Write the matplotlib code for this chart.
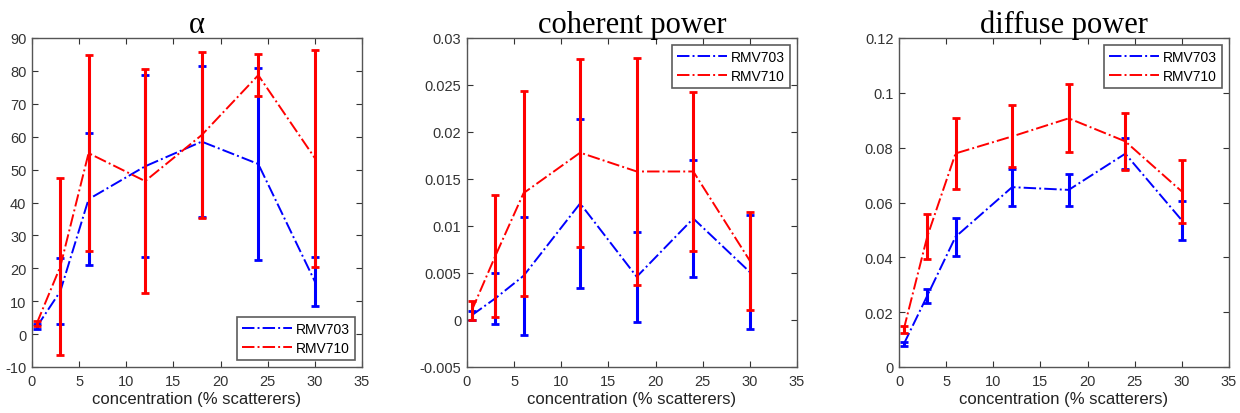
import numpy as np
import matplotlib
matplotlib.use('Agg')
import matplotlib.pyplot as plt
from matplotlib.lines import Line2D

# concentration (% scatterers)
conc = [0.5, 3, 6, 12, 18, 24, 30]

# alpha
alpha_703 = [2.2, 13, 41, 51, 58.5, 51.7, 16]
alpha_703_err = [0.8, 10, 20, 27.7, 23, 29.3, 7.5]
alpha_710 = [3.2, 20.5, 55, 46.5, 60.5, 78.7, 53.5]
alpha_710_err = [0.8, 27, 29.7, 34, 25.3, 6.3, 33]

# coherent power
coh_703 = [0.0005, 0.0023, 0.0047, 0.0124, 0.0046, 0.0108, 0.0051]
coh_703_err = [0.0005, 0.0027, 0.0063, 0.009, 0.0048, 0.0062, 0.0061]
coh_710 = [0.001, 0.0068, 0.0135, 0.0178, 0.0158, 0.0158, 0.0063]
coh_710_err = [0.001, 0.0065, 0.0109, 0.01, 0.0121, 0.0085, 0.0052]

# diffuse power
dif_703 = [0.0083, 0.026, 0.0475, 0.0656, 0.0646, 0.0778, 0.0535]
dif_703_err = [0.0008, 0.0025, 0.007, 0.0068, 0.0058, 0.0057, 0.0072]
dif_710 = [0.0137, 0.0476, 0.0779, 0.0841, 0.0907, 0.0823, 0.064]
dif_710_err = [0.0012, 0.0083, 0.0131, 0.0113, 0.0124, 0.0105, 0.0115]

titles = ['α', 'coherent power', 'diffuse power']
ylims = [(-10, 90), (-0.005, 0.03), (0, 0.12)]
yticks = [np.arange(-10, 91, 10),
          [-0.005, 0, 0.005, 0.01, 0.015, 0.02, 0.025, 0.03],
          [0, 0.02, 0.04, 0.06, 0.08, 0.1, 0.12]]
ytick_labels = [[str(v) for v in range(-10, 91, 10)],
                ['-0.005', '0', '0.005', '0.01', '0.015', '0.02', '0.025', '0.03'],
                ['0', '0.02', '0.04', '0.06', '0.08', '0.1', '0.12']]
legend_locs = ['lower right', 'upper right', 'upper right']
series = [(alpha_703, alpha_703_err, alpha_710, alpha_710_err),
          (coh_703, coh_703_err, coh_710, coh_710_err),
          (dif_703, dif_703_err, dif_710, dif_710_err)]

plt.rcParams['font.family'] = ['Liberation Sans', 'DejaVu Sans']

fig = plt.figure(figsize=(12.4, 4.14), dpi=100)
lefts = [32, 467, 899]
W, H = 1240, 414
BLUE, RED = '#0000ff', '#ff0000'

for i in range(3):
    ax = fig.add_axes([lefts[i] / W, 1 - 368 / H, 330 / W, (368 - 39) / H])
    m1, e1, m2, e2 = series[i]
    for m, e, c in [(m1, e1, BLUE), (m2, e2, RED)]:
        ax.errorbar(conc, m, yerr=e, fmt='none', ecolor=c, elinewidth=2.2,
                    capsize=3, capthick=2)
        ax.plot(conc, m, ls='-.', color=c, lw=1.4)
    ax.set_xlim(0, 35)
    ax.set_xticks(range(0, 36, 5))
    ax.set_ylim(*ylims[i])
    ax.set_yticks(yticks[i])
    ax.set_yticklabels(ytick_labels[i])
    ax.tick_params(direction='in', top=True, right=True, labelsize=10.5,
                   colors='#333333', length=4, pad=4)
    ax.tick_params(axis='x', pad=5)
    for s in ax.spines.values():
        s.set_color('#555555')
        s.set_linewidth(1.0)
    ax.set_xlabel('concentration (% scatterers)', fontsize=12, labelpad=2,
                  color='#222222')
    ax.set_title(titles[i], family=['Liberation Serif', 'DejaVu Serif'],
                 fontsize=22, pad=4)
    handles = [Line2D([], [], ls='-.', color=BLUE, lw=1.4),
               Line2D([], [], ls='-.', color=RED, lw=1.4)]
    leg = ax.legend(handles, ['RMV703', 'RMV710'], loc=legend_locs[i],
                    fontsize=10, fancybox=False, edgecolor='#333333',
                    handlelength=3.6, borderpad=0.35, labelspacing=0.35,
                    borderaxespad=0.5, handletextpad=0.3)
    leg.get_frame().set_linewidth(1.2)

fig.savefig('out.png', dpi=100)
